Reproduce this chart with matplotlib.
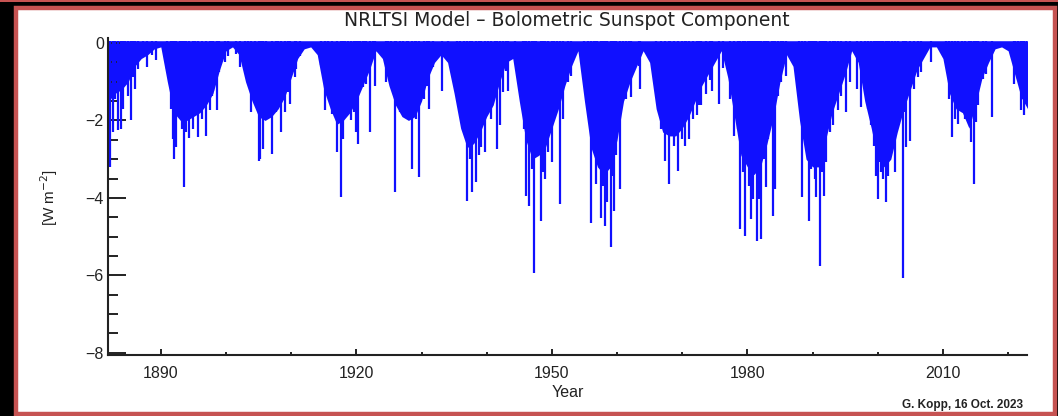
import matplotlib
matplotlib.use("Agg")
import matplotlib.pyplot as plt
from matplotlib.patches import Rectangle
from matplotlib.ticker import MultipleLocator

plt.rcParams['font.family'] = ['Liberation Sans', 'DejaVu Sans']

# solid body of the sunspot darkening, one value per year
band_years = list(range(1882, 2024))
band_depth = [
    -1.5, -1.3, -1.2, -1.0, -0.6, -0.4, -0.3, -0.15,                # 1882-1889
    -0.1, -1.0, -1.8, -2.0, -2.0, -1.9, -1.8, -1.6, -1.3, -0.7,     # 1890s
    -0.2, -0.1, -0.3, -1.0, -1.5, -1.9, -2.0, -1.9, -1.7, -1.4,     # 1900s
    -0.9, -0.4, -0.15, -0.1, -0.3, -1.2, -1.7, -2.1, -2.0, -1.8,    # 1910s
    -1.5, -1.1, -0.7, -0.2, -0.4, -1.1, -1.6, -1.9, -2.0, -1.9,     # 1920s
    -1.5, -0.9, -0.5, -0.3, -0.5, -1.3, -2.2, -2.7, -2.6, -2.3,     # 1930s
    -1.9, -1.6, -1.0, -0.5, -0.4, -1.5, -2.5, -3.0, -2.9, -2.7,     # 1940s
    -2.2, -1.7, -1.1, -0.6, -0.2, -1.5, -2.7, -3.2, -3.4, -3.2,     # 1950s
    -2.5, -1.5, -1.0, -0.6, -0.2, -0.5, -1.7, -2.3, -2.4, -2.4,     # 1960s
    -2.2, -1.9, -1.5, -1.1, -0.8, -0.5, -0.2, -0.9, -1.9, -2.9,     # 1970s
    -3.2, -3.4, -3.2, -2.6, -1.9, -1.0, -0.3, -0.6, -2.0, -3.0,     # 1980s
    -3.2, -3.2, -2.5, -1.8, -1.3, -0.8, -0.2, -0.5, -1.5, -2.2,     # 1990s
    -3.0, -3.2, -3.0, -2.3, -1.7, -1.2, -0.7, -0.4, -0.1, -0.1,     # 2000s
    -0.4, -1.3, -1.7, -1.8, -2.2, -1.6, -0.9, -0.5, -0.15, -0.1,    # 2010s
    -0.2, -0.8, -1.4, -1.7,                                         # 2020-2023
]

# individual deep days (large spot groups)
spike_year = [
    1882.2, 1882.7, 1883.5, 1883.9, 1884.2, 1885.4, 1886.1, 1886.5, 1887.9, 1889.3,
    1890.9, 1891.5, 1892.0, 1892.4, 1892.9, 1893.5, 1893.9, 1894.4, 1894.9, 1895.7,
    1896.3, 1897.0, 1897.8, 1898.6, 1899.8,
    1902.1, 1903.8, 1905.0, 1905.7, 1907.1, 1908.5, 1909.0, 1909.9, 1910.6,
    1915.2, 1916.2, 1917.0, 1917.6, 1918.0, 1919.2, 1920.0, 1920.3, 1921.0, 1921.5,
    1922.1, 1922.9,
    1924.6, 1925.3, 1925.9, 1926.7, 1927.7, 1928.6, 1929.6, 1931.1, 1933.1,
    1935.9, 1937.0, 1937.8, 1938.4, 1939.2, 1939.7, 1940.6, 1941.6, 1942.1, 1943.3,
    1946.1, 1946.5, 1947.2, 1948.3, 1949.0, 1950.0, 1951.3, 1952.5, 1953.0,
    1956.0, 1956.8, 1957.5, 1958.1, 1959.0, 1959.5, 1960.5, 1961.4, 1962.1, 1963.6,
    1967.4, 1968.0, 1969.3, 1970.4, 1971.1, 1972.2, 1972.9, 1973.7, 1974.6, 1975.6,
    1977.4, 1978.0, 1978.8, 1979.7, 1980.3, 1980.8, 1981.4, 1982.1, 1982.9, 1984.0,
    1984.3, 1985.2, 1986.0,
    1988.4, 1989.4, 1990.0, 1990.6, 1991.1, 1991.7, 1992.6, 1993.1, 1993.9, 1995.2,
    1996.8, 1997.5, 1999.0,
    2000.1, 2000.8, 2001.2, 2001.8, 2002.6, 2003.8, 2004.4, 2005.0, 2006.1, 2008.2,
    2011.4, 2012.3, 2013.0, 2014.3, 2014.7, 2015.4, 2016.2, 2017.6, 2020.9, 2022.0,
    2022.4, 2022.9,
]
spike_value = [
    -3.21, -2.31, -2.25, -2.22, -1.70, -2.00, -1.18, -0.66, -0.62, -0.44,
    -0.66, -1.70, -3.00, -2.69, -1.79, -3.73, -2.31, -2.46, -2.22, -2.44,
    -1.96, -2.39, -1.36, -1.74, -0.49,
    -0.62, -1.79, -3.04, -2.74, -2.87, -2.31, -1.79, -1.57, -0.88,
    -1.74, -1.83, -2.82, -3.99, -2.48, -2.00, -2.31, -2.61, -1.14, -1.05,
    -2.31, -1.10,
    -1.01, -0.92, -3.86, -1.79, -1.87, -3.26, -3.45, -1.70, -1.23,
    -1.70, -4.08, -3.86, -3.60, -2.69, -2.82, -1.96, -2.74, -2.13, -1.23,
    -3.95, -4.20, -5.93, -4.59, -3.52, -3.08, -4.16, -1.01, -0.84,
    -4.64, -3.64, -4.51, -4.72, -5.28, -4.33, -3.77, -1.44, -1.40, -1.18,
    -3.04, -3.64, -3.30, -2.65, -2.48, -1.87, -1.61, -1.31, -1.23, -1.57,
    -1.44, -2.39, -4.81, -4.98, -3.69, -4.03, -5.11, -5.07, -3.73, -4.46,
    -3.77, -1.01, -0.84,
    -3.99, -4.59, -2.39, -3.99, -5.76, -3.95, -2.31, -2.13, -1.74, -1.79,
    -1.18, -1.66, -2.13,
    -4.03, -3.52, -4.12, -2.82, -3.34, -6.06, -2.69, -2.52, -0.88, -0.49,
    -2.44, -2.09, -1.53, -2.56, -3.64, -1.61, -0.92, -1.92, -1.05, -1.74,
    -1.87, -1.57,
]

# shorter dips that fill out the ragged edge of each cycle
mid_year = [
    1882.9, 1884.5, 1884.9, 1885.8, 1887.3, 1888.6, 1891.8, 1893.2, 1895.2, 1897.5,
    1898.0, 1899.0, 1900.3, 1901.6, 1902.9, 1903.4, 1904.4, 1905.4,
    1905.2, 1906.2, 1907.7, 1908.0, 1909.5, 1910.7, 1911.3, 1914.6, 1915.7, 1918.2,
    1918.7, 1919.6, 1920.5, 1921.3, 1922.5, 1924.8, 1926.1, 1927.2, 1927.9, 1929.0,
    1929.2, 1930.4, 1930.8, 1931.8, 1934.1, 1935.4, 1936.5, 1937.4, 1938.8, 1940.2,
    1941.3, 1942.5, 1943.0, 1944.3, 1945.6, 1945.8, 1946.9, 1947.6, 1948.6, 1949.4,
    1950.4, 1950.8, 1951.7,
    1955.0, 1955.5, 1956.4, 1957.0, 1957.8, 1958.4, 1959.3, 1959.9, 1960.9, 1961.8,
    1963.3, 1966.0, 1966.8, 1968.2, 1968.7, 1969.9, 1970.6, 1971.6, 1972.6, 1974.2,
    1976.2,
    1978.5, 1979.3, 1980.1, 1980.6, 1981.1, 1981.8, 1982.6, 1983.2, 1983.7, 1984.7,
    1985.5, 1987.9, 1988.8, 1989.7, 1990.3, 1991.4, 1992.1, 1993.4, 1994.4, 1995.7,
    1998.0, 1998.5, 1999.5, 2000.4,
    1999.8, 2000.5, 2001.5, 2002.2, 2003.1, 2004.1, 2005.6, 2006.7, 2010.5, 2011.0,
    2011.8, 2013.4, 2014.0, 2015.1, 2016.6, 2021.0, 2021.5, 2022.2,
]
mid_value = [
    -1.44, -1.09, -1.36, -0.88, -0.36, -0.30, -2.48, -2.22, -1.44, -1.74,
    -1.23, -0.75, -0.34, -0.28, -0.62, -0.88, -1.01, -1.70,
    -3.00, -1.96, -1.79, -1.44, -1.27, -0.66, -0.34, -0.57, -1.27, -1.27,
    -1.79, -1.79, -0.96, -0.70, -0.34, -0.62, -1.44, -1.44, -1.87, -1.79,
    -1.96, -1.44, -1.10, -0.62, -0.30, -0.84, -2.22, -2.99, -2.90, -1.79,
    -0.92, -1.27, -0.72, -0.30, -1.44, -2.22, -3.26, -2.90, -3.34, -2.82,
    -1.79, -0.88, -1.96,
    -0.57, -1.44, -2.22, -2.90, -3.69, -4.12, -3.43, -2.90, -1.44, -0.92,
    -0.60, -0.96, -2.22, -2.05, -2.65, -2.48, -2.00, -1.96, -1.61, -0.96,
    -0.64,
    -2.22, -3.34, -2.65, -4.55, -3.26, -4.03, -3.00, -2.48, -1.87, -1.36,
    -0.62, -1.05, -2.48, -3.26, -3.52, -3.34, -3.08, -1.44, -1.36, -1.01,
    -0.79, -1.70, -2.65, -3.08,
    -3.43, -3.34, -3.43, -2.56, -2.05, -1.79, -1.18, -0.75, -0.49, -1.44,
    -1.96, -1.96, -1.70, -2.05, -0.79, -0.70, -0.92, -1.44,
]

W, H = 1058, 416
fig = plt.figure(figsize=(W / 100, H / 100), dpi=100, facecolor='black')

# white panel with red frame, kept behind the axes
red = '#c65352'
fig.patches.append(Rectangle((0, 1 - 2 / H), 1, 2 / H, transform=fig.transFigure,
                             facecolor=red, edgecolor='none', zorder=-5))
fig.patches.append(Rectangle((16 / W, 2 / H), (1055 - 16) / W, 1 - 10 / H,
                             transform=fig.transFigure, facecolor='white',
                             edgecolor=red, linewidth=3.2, zorder=-5))

ax = fig.add_axes([108 / W, 1 - 355 / H, 919 / W, 317 / H])
ax.set_facecolor('none')
ax.set_zorder(2)

blue = '#1010ff'
ax.fill_between(band_years, band_depth, 0.06, color=blue, linewidth=0)
ax.vlines(mid_year, mid_value, 0.06, color=blue, linewidth=1.6)
ax.vlines(spike_year, spike_value, 0.06, color=blue, linewidth=1.6)

ax.set_xlim(1881.9, 2022.9)
ax.set_ylim(-8.06, 0.13)

for side in ('top', 'right'):
    ax.spines[side].set_visible(False)
for side in ('left', 'bottom'):
    ax.spines[side].set_linewidth(1.5)
    ax.spines[side].set_color('#222222')

ax.set_xticks([1890, 1920, 1950, 1980, 2010])
ax.xaxis.set_minor_locator(MultipleLocator(10))
ax.set_yticks([-8, -6, -4, -2, 0])
ax.yaxis.set_minor_locator(MultipleLocator(0.5))

ax.tick_params(axis='y', which='major', direction='in', length=13, width=1.4,
               pad=3, labelsize=11.5, colors='#222222')
ax.tick_params(axis='y', which='minor', direction='in', length=7, width=1.4,
               colors='#222222')
ax.tick_params(axis='x', which='major', direction='in', length=4, width=1.4,
               pad=8, labelsize=11.5, colors='#222222')
ax.tick_params(axis='x', which='minor', direction='in', length=2, width=1.4,
               colors='#222222')
ax.set_yticklabels(['\u22128', '\u22126', '\u22124', '\u22122', '0'])

ax.set_xlabel('Year', fontsize=11.5, color='#222222')
ax.xaxis.set_label_coords(460 / 919, -30 / 317)
ax.set_ylabel('[W m$^{-2}$]', fontsize=11, color='#222222')
ax.yaxis.set_label_coords(-48 / 919, 158 / 317)

fig.text(567 / W, 1 - 20 / H, 'NRLTSI Model \u2013 Bolometric Sunspot Component',
         ha='center', va='center', fontsize=13.5, color='#222222',
         family='DejaVu Sans')
fig.text(1023 / W, 1 - 405 / H, 'G. Kopp, 16 Oct. 2023', ha='right', va='center',
         fontsize=8.5, fontweight='bold', color='#222222')

fig.savefig('out.png', dpi=100, facecolor=fig.get_facecolor())
